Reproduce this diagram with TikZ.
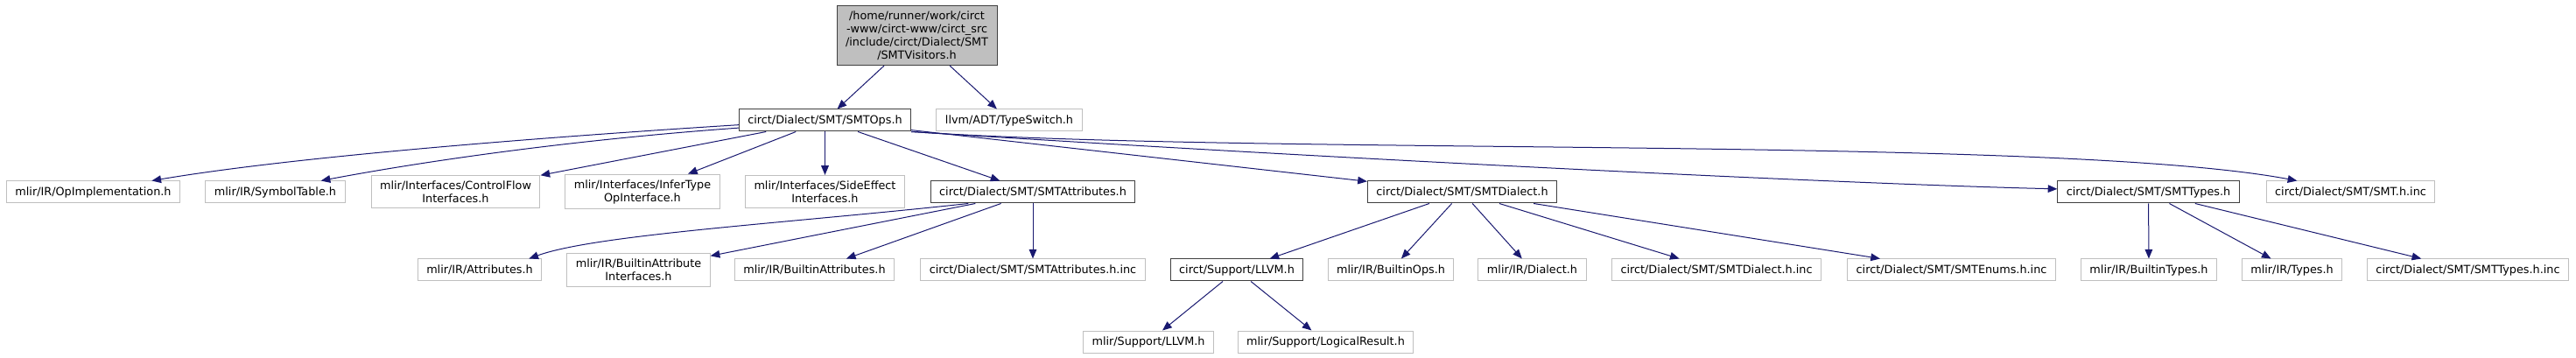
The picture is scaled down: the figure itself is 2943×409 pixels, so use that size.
\documentclass[tikz,border=0pt]{standalone}
\usepackage{fontspec}
\setmainfont{DejaVu Sans}
\usetikzlibrary{arrows.meta}
\definecolor{edgeblue}{HTML}{191970}
\definecolor{linkgray}{HTML}{404040}
\definecolor{plaingray}{HTML}{BFBFBF}
\begin{document}
\begin{tikzpicture}[x=0.75pt,y=-0.75pt,line width=0.75pt]
            %
            % `file' is the common box of every header.
            % `root' is the header that the graph is drawn for.
            % `linked' is used for headers that have their own includes.
            % `plain' is used for headers that are not expanded.
            % `incl' is used for the include arrows.
            \tikzstyle{file} = [draw,fill=white,font=\fontsize{9.6}{11.25}\selectfont,align=center,inner xsep=7.5pt,inner ysep=4.6pt,minimum height=18.75pt]
            \tikzstyle{root} = [file,draw=linkgray,fill=plaingray]
            \tikzstyle{linked} = [file,draw=linkgray]
            \tikzstyle{plain} = [file,draw=plaingray]
            \tikzstyle{incl} = [draw=edgeblue,-{Triangle[length=8pt,width=6.5pt]}]
            \useasboundingbox (0,0) rectangle (2943,409);
            %
            % Level 0
            \node[root] (visitors) at (1047.5,40.5) {/home/runner/work/circt\\-www/circt-www/circt\_src\\/include/circt/Dialect/SMT\\/SMTVisitors.h};
            %
            % Level 1
            \node[linked] (ops) at (942.5,137.5) {circt/Dialect/SMT/SMTOps.h};
            \node[plain] (typeswitch) at (1153,137.5) {llvm/ADT/TypeSwitch.h};
            %
            % Level 2
            \node[plain] (opimpl) at (106.5,219.5) {mlir/IR/OpImplementation.h};
            \node[plain] (symtable) at (314.5,219.5) {mlir/IR/SymbolTable.h};
            \node[plain] (controlflow) at (520.5,219) {mlir/Interfaces/ControlFlow\\Interfaces.h};
            \node[plain] (infertype) at (734,219) {mlir/Interfaces/InferType\\OpInterface.h};
            \node[plain] (sideeffect) at (942.5,219) {mlir/Interfaces/SideEffect\\Interfaces.h};
            \node[linked] (smtattr) at (1180,219.5) {circt/Dialect/SMT/SMTAttributes.h};
            \node[linked] (smtdialect) at (1670.5,219.5) {circt/Dialect/SMT/SMTDialect.h};
            \node[linked] (smttypes) at (2454.5,219.5) {circt/Dialect/SMT/SMTTypes.h};
            \node[plain] (smtinc) at (2685.5,219.5) {circt/Dialect/SMT/SMT.h.inc};
            %
            % Level 3
            \node[plain] (attributes) at (548,308.5) {mlir/IR/Attributes.h};
            \node[plain] (builtinattrif) at (729.5,308.5) {mlir/IR/BuiltinAttribute\\Interfaces.h};
            \node[plain] (builtinattrs) at (930.5,308.5) {mlir/IR/BuiltinAttributes.h};
            \node[plain] (smtattrinc) at (1180,308.5) {circt/Dialect/SMT/SMTAttributes.h.inc};
            \node[linked] (circtllvm) at (1413,308.5) {circt/Support/LLVM.h};
            \node[plain] (builtinops) at (1589,308.5) {mlir/IR/BuiltinOps.h};
            \node[plain] (dialect) at (1750.5,308.5) {mlir/IR/Dialect.h};
            \node[plain] (smtdialectinc) at (1961,308.5) {circt/Dialect/SMT/SMTDialect.h.inc};
            \node[plain] (smtenums) at (2229.5,308.5) {circt/Dialect/SMT/SMTEnums.h.inc};
            \node[plain] (builtintypes) at (2455,308.5) {mlir/IR/BuiltinTypes.h};
            \node[plain] (types) at (2618.5,308.5) {mlir/IR/Types.h};
            \node[plain] (smttypesinc) at (2819.5,308.5) {circt/Dialect/SMT/SMTTypes.h.inc};
            %
            % Level 4
            \node[plain] (mlirllvm) at (1312,390.5) {mlir/Support/LLVM.h};
            \node[plain] (logicalresult) at (1514.5,390.5) {mlir/Support/LogicalResult.h};
            %
            % Includes of SMTVisitors.h
            \draw[incl] (visitors) -- (ops);
            \draw[incl] (visitors) -- (typeswitch);
            %
            % Includes of SMTOps.h
            \draw[incl] (ops.183) .. controls (600,158) and (330,180) .. (opimpl.11);
            \draw[incl] (ops.185) .. controls (650,160) and (480,185) .. (symtable.14);
            \draw[incl] (ops) -- (controlflow);
            \draw[incl] (ops) -- (infertype);
            \draw[incl] (ops) -- (sideeffect);
            \draw[incl] (ops) -- (smtattr);
            \draw[incl] (ops) -- (smtdialect);
            \draw[incl] (ops.south east) .. controls (1500,180) and (2100,210) .. (smttypes.178);
            \draw[incl] (ops.south east) .. controls (1450,178) and (2350,155) .. (smtinc.168);
            %
            % Includes of SMTAttributes.h
            \draw[incl] (smtattr.190) .. controls (900,255) and (680,268) .. (attributes.13);
            \draw[incl] (smtattr) -- (builtinattrif);
            \draw[incl] (smtattr) -- (builtinattrs);
            \draw[incl] (smtattr) -- (smtattrinc);
            %
            % Includes of SMTDialect.h
            \draw[incl] (smtdialect) -- (circtllvm);
            \draw[incl] (smtdialect) -- (builtinops);
            \draw[incl] (smtdialect) -- (dialect);
            \draw[incl] (smtdialect) -- (smtdialectinc);
            \draw[incl] (smtdialect) -- (smtenums);
            %
            % Includes of LLVM.h
            \draw[incl] (circtllvm) -- (mlirllvm);
            \draw[incl] (circtllvm) -- (logicalresult);
            %
            % Includes of SMTTypes.h
            \draw[incl] (smttypes) -- (builtintypes);
            \draw[incl] (smttypes) -- (types);
            \draw[incl] (smttypes) -- (smttypesinc);
        \end{tikzpicture}
\end{document}
